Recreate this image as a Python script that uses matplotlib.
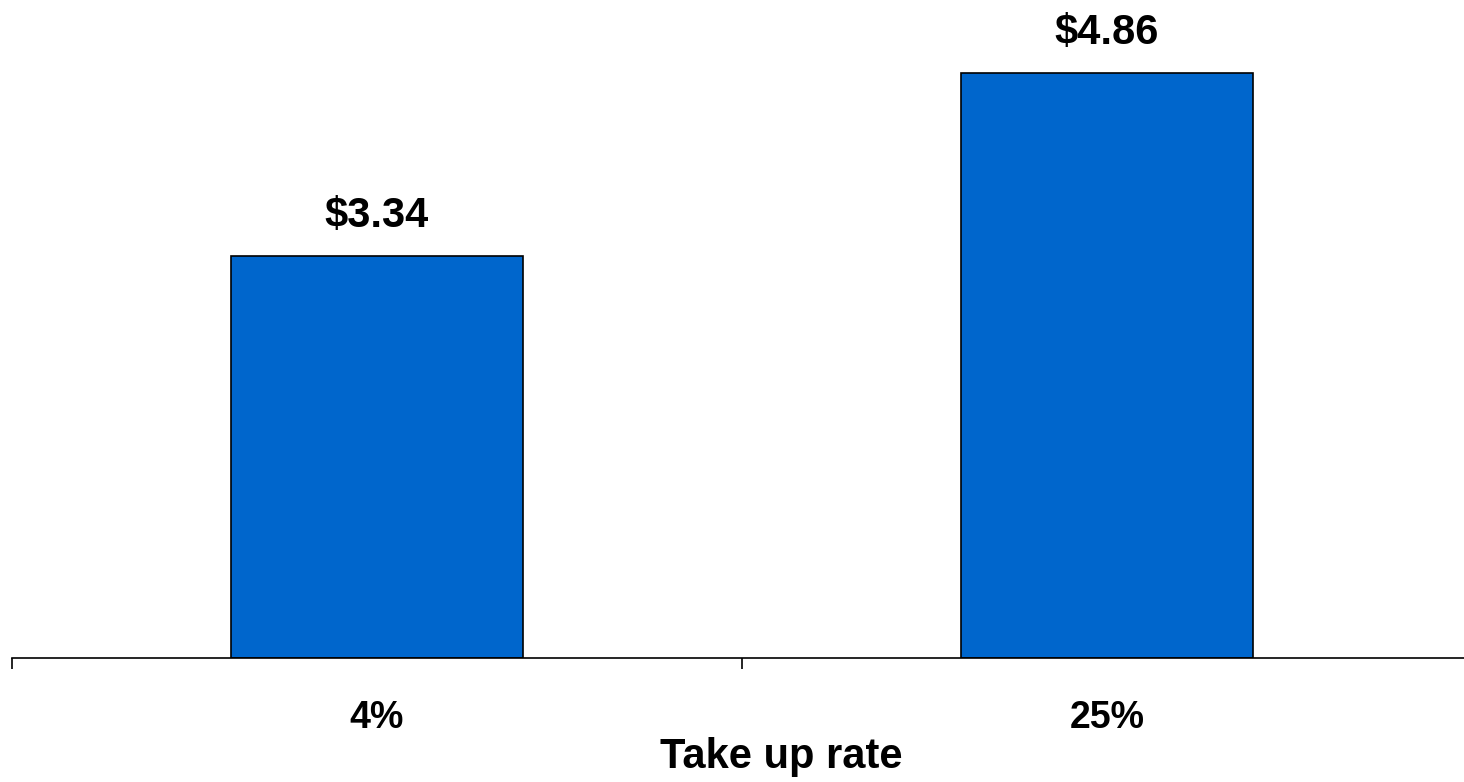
import matplotlib.pyplot as plt

categories = ["4%", "25%"]
values = [3.34, 4.86]
value_labels = ["$3.34", "$4.86"]

plt.rcParams['font.family'] = ['Liberation Sans', 'DejaVu Sans']

fig = plt.figure(figsize=(14.64, 7.82), dpi=100)
ax = fig.add_axes([12 / 1464, 124 / 782, 1460 / 1464, 658 / 782])

x = list(range(len(categories)))
bars = ax.bar(x, values, width=0.4, color='#0066CC', edgecolor='black', linewidth=1.2)

for xi, v, lab in zip(x, values, value_labels):
    ax.annotate(lab, (xi, v), xytext=(0, 14), textcoords='offset points',
                ha='center', va='bottom', fontsize=30, fontweight='bold')

ax.set_xlim(-0.5, 1.5)
ax.set_ylim(0, 5.465)

ax.set_xticks(x)
ax.set_xticklabels(categories, fontsize=27, fontweight='bold')
ax.tick_params(axis='x', which='major', length=0, pad=30)
ax.set_xticks([-0.5, 0.5, 1.5], minor=True)
ax.tick_params(axis='x', which='minor', length=8, width=1.2, direction='out')
ax.set_yticks([])

for side in ['top', 'right', 'left']:
    ax.spines[side].set_visible(False)
ax.spines['bottom'].set_linewidth(1.2)

ax.set_xlabel('Take up rate', fontsize=30, fontweight='bold')
ax.xaxis.set_label_coords(0.527, -0.12)

fig.savefig('out.png', dpi=100)
